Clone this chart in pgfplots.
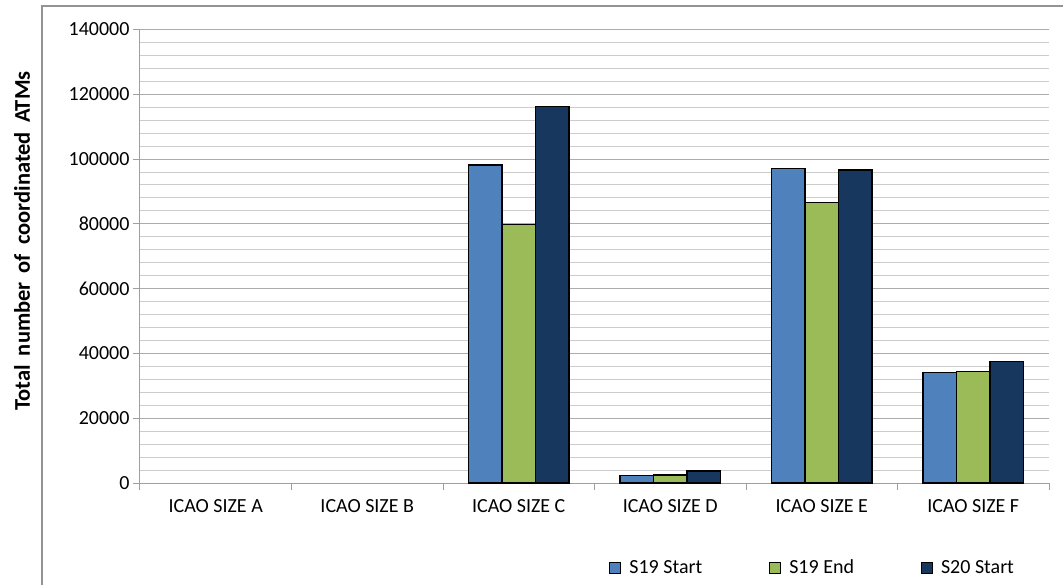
\documentclass[border=0pt]{standalone}
\usepackage{fontspec}
\setmainfont{Carlito}
\usepackage{pgfplots}
\pgfplotsset{compat=1.18}
\definecolor{sblue}{HTML}{4F81BD}
\definecolor{sgreen}{HTML}{9BBB59}
\definecolor{snavy}{HTML}{17375E}
\newcommand\cf{\fontsize{20}{24}\selectfont}
\begin{document}
\begin{tikzpicture}[x=1pt,y=1pt]
\useasboundingbox (0,0) rectangle (1063,-585);
\draw[gray!85, line width=1.2pt] (42,-585) -- (42,-6) -- (1063,-6);
\begin{axis}[
  at={(140pt,-483pt)}, anchor=south west,
  scale only axis, width=909pt, height=453.5pt,
  xmin=0, xmax=6, ymin=0, ymax=140000,
  axis lines*=left,
  axis line style={gray!75, line width=1pt},
  xtick={0,1,2,3,4,5,6}, x tick label as interval,
  xticklabels={ICAO SIZE A,ICAO SIZE B,ICAO SIZE C,ICAO SIZE D,ICAO SIZE E,ICAO SIZE F},
  ytick={0,20000,40000,60000,80000,100000,120000,140000},
  minor y tick num=4,
  ymajorgrids, yminorgrids,
  major grid style={gray!65, line width=1pt},
  minor grid style={gray!40, line width=1pt},
  tick align=outside, major tick length=7pt, minor tick length=0pt,
  tick style={gray!75, line width=1pt},
  scaled y ticks=false,
  yticklabel style={/pgf/number format/fixed, /pgf/number format/1000 sep={}, /pgf/number format/assume math mode=true},
  ticklabel style={font=\cf},
  xticklabel style={yshift=-6pt},
  ylabel={\fontsize{22.5}{27}\selectfont\bfseries Total\hspace{4pt} number\hspace{4pt} of\hspace{4pt} coordinated\hspace{4pt} ATMs},
  ylabel style={at={(axis description cs:-0.1298,0.5336)}, anchor=center},
  ybar=0pt, bar width=33.5pt,
  legend columns=3,
  legend style={at={(0.74,-0.187)}, anchor=center, draw=none, fill=none, font=\cf,
    /tikz/every odd column/.append style={column sep=6pt},
    /tikz/every even column/.append style={column sep=65pt}},
  legend image code/.code={\draw[#1, line width=1pt] (0pt,-5.5pt) rectangle (11pt,5.5pt);},
]
\addplot[fill=sblue, draw=black, line width=1.2pt] coordinates {(2.5,98200) (3.5,2200) (4.5,97000) (5.5,34200)};
\addplot[fill=sgreen, draw=black, line width=1.2pt] coordinates {(2.5,79700) (3.5,2500) (4.5,86700) (5.5,34400)};
\addplot[fill=snavy, draw=black, line width=1.2pt] coordinates {(2.5,116200) (3.5,3700) (4.5,96600) (5.5,37500)};
\legend{S19 Start, S19 End, S20 Start}
\end{axis}
\end{tikzpicture}
\end{document}
